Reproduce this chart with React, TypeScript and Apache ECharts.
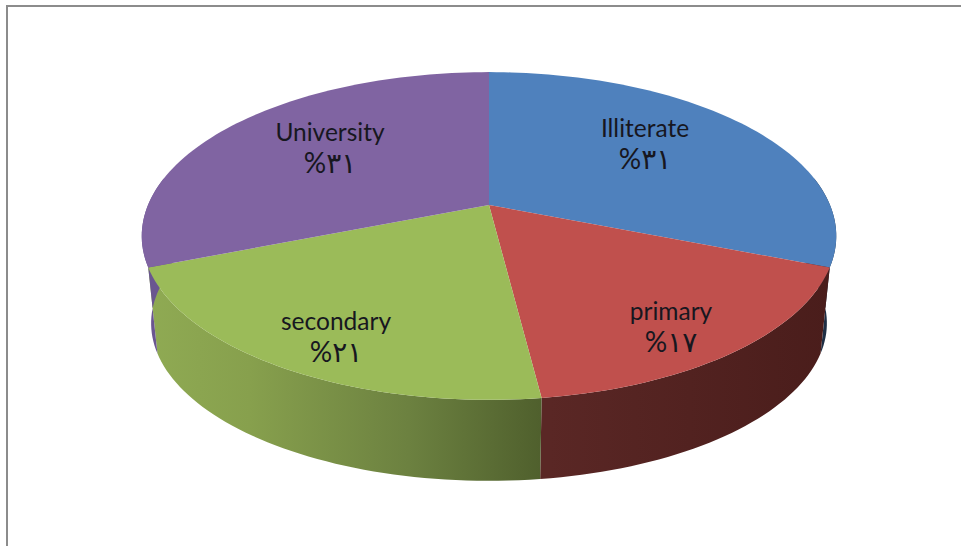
import React, { useEffect, useRef } from "react";
import * as echarts from "echarts";

// Education level shares, listed clockwise from twelve o'clock.
const categories = ["Illiterate", "primary", "secondary", "University"];
const shares = [31, 17, 21, 31];
const shareLabels = ["%٣١", "%١٧", "%٢١", "%٣١"];

const faceColors = ["#4F81BD", "#C0504D", "#9BBB59", "#8064A2"];

// Label anchors: [x, name line y, share line y]
const labelAnchors = [
  [645, 127, 158],
  [671, 310, 341],
  [336, 320, 351],
  [330, 131, 162],
];

// Perspective view of the disc
const APEX_X = 489;
const APEX_Y = 205;
const SPREAD_X = 341;
const SPREAD_Y = 158;
const TILT = 0.189;
// Lower rim: the top rim scaled towards a vanishing point far below
const RIM_SCALE_X = 0.973;
const RIM_SCALE_Y = 0.962;
const VANISH_Y = 2532;

const toRad = (deg: number) => (deg * Math.PI) / 180;

const topRim = (deg: number): [number, number] => {
  const u = Math.sin(toRad(deg));
  const v = -Math.cos(toRad(deg));
  const w = 1 - TILT * v;
  return [APEX_X + (SPREAD_X * u) / w, APEX_Y + (SPREAD_Y * v) / w];
};

const lowRim = (deg: number): [number, number] => {
  const [x, y] = topRim(deg);
  return [
    APEX_X + RIM_SCALE_X * (x - APEX_X),
    VANISH_Y + RIM_SCALE_Y * (y - VANISH_Y),
  ];
};

const total = shares.reduce((a, b) => a + b, 0);
const sliceAngles = (index: number): [number, number] => {
  const before = shares.slice(0, index).reduce((a, b) => a + b, 0);
  return [(before / total) * 360, ((before + shares[index]) / total) * 360];
};

const sweep = (from: number, to: number, rim: (d: number) => [number, number]) => {
  const n = Math.max(2, Math.ceil(Math.abs(to - from) / 1.5));
  const pts: [number, number][] = [];
  for (let i = 0; i <= n; i++) pts.push(rim(from + ((to - from) * i) / n));
  return pts;
};

const wallFill = (index: number) => {
  const g = echarts.graphic.LinearGradient;
  if (index === 1) {
    return new g(549, 0, 830, 0, [
      { offset: 0, color: "#5A2725" },
      { offset: 1, color: "#4A1D1B" },
    ], true);
  }
  if (index === 2) {
    return new g(150, 0, 548, 0, [
      { offset: 0, color: "#8FAA53" },
      { offset: 0.25, color: "#87A04D" },
      { offset: 0.65, color: "#6C8140" },
      { offset: 1, color: "#4E5E2C" },
    ], true);
  }
  return index === 0 ? "#1E2F45" : "#6A5690";
};

const renderWall = (params: any) => {
  const i = params.dataIndex;
  const [a0, a1] = sliceAngles(i);
  const from = Math.max(a0, 80);
  const to = Math.min(a1, 280);
  if (to <= from) return { type: "group", children: [] };
  const points = [...sweep(from, to, topRim), ...sweep(to, from, lowRim)];
  return { type: "polygon", shape: { points }, style: { fill: wallFill(i) } };
};

const renderFace = (params: any) => {
  const i = params.dataIndex;
  const [a0, a1] = sliceAngles(i);
  const points = [[APEX_X, APEX_Y], ...sweep(a0, a1, topRim)];
  return { type: "polygon", shape: { points }, style: { fill: faceColors[i] } };
};

const textColor = "#17171F";

const renderLabel = (params: any) => {
  const i = params.dataIndex;
  const [x, nameY, shareY] = labelAnchors[i];
  return {
    type: "group",
    children: [
      {
        type: "text",
        style: {
          x,
          y: nameY,
          text: categories[i],
          fill: textColor,
          font: '24.5px Lato, "DejaVu Sans", sans-serif',
          align: "center",
          verticalAlign: "middle",
        },
      },
      {
        type: "text",
        style: {
          x,
          y: shareY,
          text: shareLabels[i],
          fill: textColor,
          font: '28px Lato, "DejaVu Sans ExtraLight", "DejaVu Sans", sans-serif',
          align: "center",
          verticalAlign: "middle",
        },
      },
    ],
  };
};

export default function App() {
  const ref = useRef<HTMLDivElement>(null);

  useEffect(() => {
    document.body.style.margin = "0";
    document.body.style.background = "#fff";
    const chart = echarts.init(ref.current!, null, { renderer: "svg" });
    const rows = shares.map((v, i) => ({ name: categories[i], value: v }));
    chart.setOption({
      animation: false,
      backgroundColor: "#fff",
      graphic: {
        elements: [
          {
            type: "polyline",
            silent: true,
            shape: { points: [[7, 546], [7, 6], [961, 6]] },
            style: { fill: "none", stroke: "#8C8C8C", lineWidth: 2 },
          },
        ],
      },
      series: [
        { type: "custom", coordinateSystem: "none", z: 1, silent: true, data: rows, renderItem: renderWall },
        { type: "custom", coordinateSystem: "none", z: 2, silent: true, data: rows, renderItem: renderFace },
        { type: "custom", coordinateSystem: "none", z: 3, silent: true, data: rows, renderItem: renderLabel },
      ],
    });
    return () => chart.dispose();
  }, []);

  return <div ref={ref} style={{ width: 961, height: 546 }} />;
}
